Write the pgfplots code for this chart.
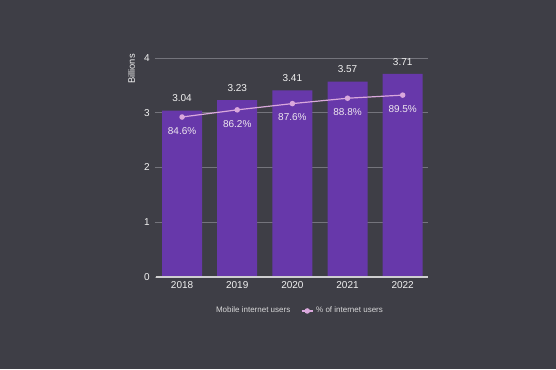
\documentclass[border=0pt]{standalone}
\usepackage{pgfplots}
\pgfplotsset{compat=1.18}
\usepackage{fontspec}
\setmainfont{Liberation Sans}
\definecolor{bg}{HTML}{3E3E46}
\definecolor{barc}{HTML}{6738AA}
\definecolor{linec}{HTML}{D9A8DC}
\definecolor{gridc}{HTML}{74747C}
\definecolor{txt}{HTML}{F2F2F2}
\begin{document}
\begin{tikzpicture}
\fill[bg] (0,0) rectangle (417pt,276.75pt);
\useasboundingbox (0,0) rectangle (417pt,276.75pt);
\begin{axis}[
    at={(115.875pt,69pt)}, anchor=south west,
    scale only axis, width=204.75pt, height=164.25pt,
    ybar, bar width=30pt,
    xmin=-0.5, xmax=4.45, ymin=0, ymax=4,
    xtick=data, xticklabels={2018,2019,2020,2021,2022},
    ytick={0,1,2,3,4},
    axis line style={draw=none},
    axis x line*=bottom, axis y line*=left,
    major tick length=0pt,
    ymajorgrids, grid style={gridc, line width=0.6pt},
    tick label style={txt, font=\fontsize{7.5}{8}\selectfont},
    /pgf/number format/assume math mode=true,
    ylabel={Billions}, ylabel style={txt, font=\fontsize{7}{8}\selectfont, at={(ticklabel cs:0.95)}, anchor=south},
    nodes near coords,
    nodes near coords style={txt, font=\fontsize{7.5}{8}\selectfont, /pgf/number format/fixed, /pgf/number format/precision=2, /pgf/number format/fixed zerofill, /pgf/number format/assume math mode=true, yshift=3pt},
    clip=false,
]
\addplot[fill=barc, draw=none] coordinates {(0,3.04) (1,3.23) (2,3.41) (3,3.57) (4,3.71)};
\draw[txt!80!bg, line width=0.8pt] (axis cs:-0.48,0) -- (axis cs:4.45,0);
\end{axis}
\begin{axis}[
    at={(115.875pt,69pt)}, anchor=south west,
    scale only axis, width=204.75pt, height=164.25pt,
    xmin=-0.5, xmax=4.45, ymin=48.8, ymax=97.8,
    hide axis, clip=false,
    legend style={at={(0.2,-0.155)}, anchor=west, draw=none, fill=none, text=txt!85!bg,
        font=\fontsize{6}{7}\selectfont, legend columns=2,
        /tikz/every even column/.append style={column sep=6pt}},
    legend cell align=left,
    legend image code/.code={\draw[mark repeat=2,mark phase=2,#1] plot coordinates {(0cm,0cm) (0.15cm,0cm) (0.3cm,0cm)};},
]
\addlegendimage{empty legend}
\addlegendentry{Mobile internet users}
\addplot[linec, line width=0.9pt, mark=*, mark size=1.6pt,
    nodes near coords={\pgfmathprintnumber[fixed,precision=1,fixed zerofill,assume math mode=true]{\pgfplotspointmeta}\%},
    nodes near coords style={txt!85!linec, font=\fontsize{7.5}{8}\selectfont, anchor=north, yshift=-4pt},
    point meta=explicit]
    coordinates {(0,84.6) [84.6] (1,86.2) [86.2] (2,87.6) [87.6] (3,88.8) [88.8] (4,89.5) [89.5]};
\addlegendentry{\% of internet users}
\end{axis}
\end{tikzpicture}
\end{document}
